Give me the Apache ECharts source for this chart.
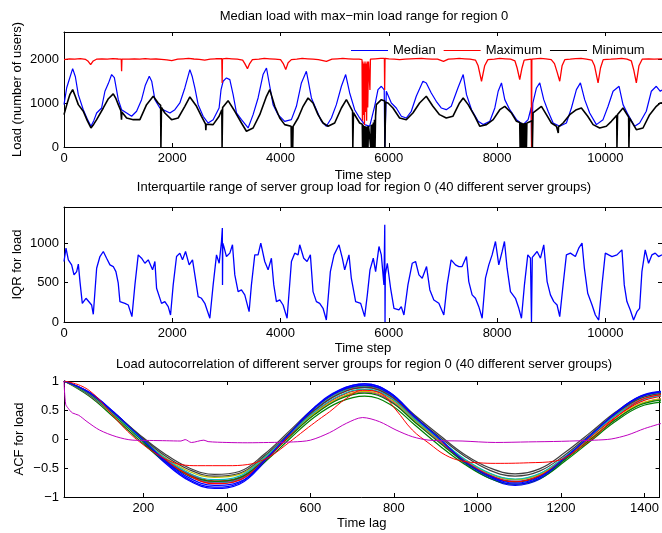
<!DOCTYPE html>
<html><head><meta charset="utf-8">
<script src="https://cdn.jsdelivr.net/npm/echarts@6/dist/echarts.min.js"></script>
<style>html,body{margin:0;padding:0;background:#fff}#c{width:662px;height:533px}</style>
</head><body><div id="c"></div>
<script>
// ---------- data ----------
const timeTicks = [0, 2000, 4000, 6000, 8000, 10000];
const loadTicks = [0, 1000, 2000];
const iqrTicks = [0, 500, 1000];
const lagTicks = [200, 400, 600, 800, 1000, 1200, 1400];
const acfTicks = [-1, -0.5, 0, 0.5, 1];
const legendNames = ['Median', 'Maximum', 'Minimum'];

const median = [[0,965],[50,1350],[100,1550],[160,1785],[210,1600],[264,1193],[356,850],[430,640],[498,472],[550,600],[603,775],[695,889],[756,1270],[820,1450],[880,1650],[930,1580],[1003,1079],[1064,850],[1157,775],[1249,700],[1341,814],[1433,1079],[1500,1400],[1575,1612],[1620,1500],[1679,1079],[1771,889],[1833,850],[1956,775],[2048,850],[2140,1003],[2232,1345],[2325,1763],[2370,1600],[2417,1345],[2478,965],[2570,700],[2662,547],[2755,623],[2865,889],[2900,1300],[2939,1498],[3001,1574],[3063,1535],[3124,1193],[3186,775],[3278,623],[3401,433],[3493,737],[3585,1117],[3677,1650],[3740,1800],[3801,1384],[3862,965],[3954,737],[4077,585],[4200,623],[4293,927],[4385,1460],[4477,1726],[4520,1450],[4570,1117],[4662,850],[4755,585],[4847,472],[4939,661],[5031,965],[5124,1384],[5203,1650],[5277,1231],[5369,850],[5461,661],[5554,510],[5646,472],[5738,927],[5800,1307],[5862,1384],[5915,1300],[5925,0],[5935,0],[5954,1270],[6046,1003],[6138,889],[6231,700],[6323,661],[6415,814],[6507,1155],[6630,1498],[6692,1460],[6784,1231],[6876,1041],[6968,889],[7061,850],[7153,927],[7276,1345],[7374,1650],[7435,1193],[7528,850],[7651,585],[7743,510],[7866,585],[7958,889],[8020,1270],[8081,1460],[8142,1079],[8234,850],[8358,623],[8481,510],[8573,623],[8630,900],[8638,0],[8648,0],[8660,1000],[8727,1345],[8788,1460],[8862,1079],[8942,814],[9035,547],[9157,472],[9280,547],[9373,889],[9465,1307],[9539,1460],[9618,1079],[9710,775],[9834,510],[9957,623],[10050,927],[10142,1270],[10253,1384],[10326,965],[10419,737],[10541,472],[10633,547],[10756,814],[10849,1270],[10941,1384],[11015,1270],[11046,1300]];

const maximum = [[0,1990],[100,2010],[200,2000],[300,2015],[400,1995],[440,1960],[492,1877],[540,1960],[600,2000],[700,2010],[800,2000],[900,2015],[1000,2005],[1058,2000],[1064,1726],[1070,2000],[1200,2000],[1300,2010],[1400,2000],[1500,2015],[1600,2000],[1700,2005],[1800,1995],[1900,1985],[1990,1970],[2100,2000],[2200,2010],[2300,2020],[2400,2005],[2500,1995],[2600,1980],[2700,2000],[2800,2010],[2915,2010],[2921,1460],[2927,2010],[3000,2020],[3100,2010],[3200,2000],[3300,1980],[3340,1900],[3389,1785],[3430,1900],[3480,1990],[3600,2000],[3700,2020],[3800,2010],[3900,2000],[4000,1990],[4050,1900],[4096,1763],[4140,1920],[4200,1990],[4300,2000],[4400,2020],[4500,2010],[4600,2000],[4700,1990],[4847,1950],[4950,2000],[5050,2010],[5150,2020],[5250,2010],[5350,2000],[5450,2000],[5505,1990],[5512,600],[5520,1950],[5530,730],[5540,1900],[5550,500],[5560,1950],[5570,800],[5580,1900],[5590,600],[5600,1950],[5610,900],[5625,1950],[5651,1300],[5660,2000],[5750,2010],[5850,2020],[5918,2020],[5923,1300],[5930,2020],[6000,2010],[6100,2000],[6200,1990],[6300,2000],[6400,2010],[6500,2015],[6600,2020],[6700,2010],[6800,2000],[6900,2000],[7010,1950],[7100,2000],[7200,2010],[7300,2020],[7400,2010],[7500,2000],[7600,1980],[7650,1850],[7712,1498],[7770,1850],[7830,1990],[7950,2000],[8050,2020],[8150,2010],[8250,2000],[8330,1960],[8370,1800],[8418,1535],[8460,1800],[8500,1980],[8630,2000],[8636,0],[8642,2000],[8700,2010],[8800,2020],[8900,2010],[9000,1990],[9060,1900],[9110,1700],[9157,1498],[9200,1850],[9250,1990],[9350,2000],[9450,2015],[9550,2020],[9650,2000],[9750,1980],[9800,1850],[9865,1460],[9910,1800],[9960,1990],[10100,2000],[10200,2010],[10300,2020],[10400,2000],[10480,1960],[10525,1750],[10572,1460],[10620,1850],[10680,2000],[10800,2010],[10900,2000],[11046,2010]];

const minimum = [[0,737],[60,1000],[110,1200],[160,1307],[210,1150],[264,965],[356,814],[430,600],[498,433],[550,520],[603,623],[726,889],[820,1100],[910,1209],[960,1100],[1003,965],[1050,830],[1062,620],[1068,800],[1157,661],[1280,623],[1402,623],[1525,965],[1648,1155],[1740,1003],[1785,950],[1790,0],[1796,0],[1800,900],[1863,775],[1987,623],[2109,661],[2232,927],[2325,1140],[2448,927],[2540,700],[2615,520],[2620,380],[2626,520],[2755,510],[2865,700],[2915,850],[2920,0],[2926,0],[2930,900],[3031,1056],[3155,814],[3278,547],[3370,358],[3493,433],[3616,737],[3740,1155],[3801,1307],[3893,927],[3985,661],[4077,510],[4195,472],[4200,0],[4210,0],[4215,472],[4225,0],[4232,470],[4324,661],[4416,927],[4508,1117],[4600,1003],[4692,737],[4785,547],[4877,472],[5000,547],[5124,889],[5216,1079],[5330,820],[5335,0],[5342,0],[5347,780],[5461,547],[5510,520],[5515,0],[5525,500],[5535,0],[5545,480],[5555,0],[5565,470],[5575,0],[5585,460],[5595,0],[5605,470],[5615,0],[5625,480],[5660,480],[5665,0],[5675,500],[5685,0],[5695,520],[5705,0],[5715,560],[5725,0],[5735,620],[5745,0],[5755,700],[5769,965],[5862,1079],[5925,1050],[5928,0],[5934,0],[5940,1020],[5984,1003],[6076,889],[6199,661],[6323,623],[6445,775],[6568,1003],[6692,1155],[6814,927],[6937,737],[7061,661],[7183,700],[7306,1003],[7374,1117],[7466,965],[7589,700],[7681,472],[7804,510],[7928,623],[8050,850],[8142,927],[8266,775],[8358,585],[8418,560],[8425,0],[8435,560],[8445,0],[8455,550],[8465,0],[8475,540],[8485,0],[8495,540],[8505,0],[8515,545],[8525,0],[8535,547],[8542,0],[8550,547],[8573,547],[8648,600],[8652,0],[8658,0],[8664,780],[8696,814],[8819,927],[8911,737],[9003,547],[9096,472],[9125,460],[9130,320],[9135,460],[9219,547],[9342,737],[9465,850],[9557,889],[9674,700],[9773,510],[9895,433],[10018,472],[10111,585],[10210,720],[10214,0],[10220,0],[10225,740],[10326,889],[10430,680],[10435,0],[10441,0],[10447,660],[10572,395],[10695,433],[10818,737],[10941,927],[11015,1003],[11046,1010]];

const iqr = [[0,768],[37,937],[80,789],[141,725],[185,598],[234,640],[265,734],[295,513],[338,237],[406,301],[449,267],[510,216],[541,98],[603,683],[664,831],[726,895],[787,810],[849,725],[910,704],[959,640],[1002,492],[1033,259],[1125,237],[1187,216],[1255,68],[1310,471],[1371,852],[1433,810],[1494,746],[1556,789],[1636,662],[1679,768],[1710,428],[1802,237],[1863,259],[1925,195],[1968,89],[2017,471],[2079,831],[2140,874],[2189,789],[2245,895],[2312,725],[2374,789],[2417,598],[2478,322],[2540,301],[2601,237],[2694,47],[2755,471],[2817,852],[2866,746],[2909,1022],[2925,1192],[2928,471],[2933,1000],[2952,958],[3001,831],[3063,874],[3112,980],[3155,598],[3216,386],[3278,407],[3339,344],[3419,131],[3462,471],[3524,852],[3585,852],[3635,1001],[3708,768],[3770,662],[3831,810],[3875,471],[3924,259],[3985,280],[4047,216],[4121,47],[4201,768],[4262,874],[4324,852],[4354,980],[4428,810],[4490,768],[4551,852],[4600,386],[4662,259],[4723,237],[4785,174],[4846,25],[4920,640],[4988,852],[5080,980],[5141,810],[5185,662],[5264,852],[5307,556],[5387,259],[5480,237],[5554,68],[5603,344],[5652,662],[5713,810],[5756,640],[5818,958],[5861,852],[5910,471],[5925,1234],[5930,0],[5935,600],[5972,746],[6033,428],[6095,174],[6187,153],[6230,195],[6279,89],[6353,471],[6433,746],[6494,768],[6556,598],[6617,556],[6697,704],[6758,407],[6832,280],[6924,237],[7016,89],[7077,471],[7151,789],[7231,725],[7293,704],[7354,704],[7434,831],[7477,513],[7539,344],[7600,301],[7662,195],[7724,47],[7785,556],[7847,725],[7908,852],[7970,1022],[8031,725],[8093,895],[8136,1022],[8185,683],[8247,386],[8339,301],[8401,174],[8450,47],[8505,471],[8567,852],[8616,810],[8635,0],[8650,820],[8678,831],[8739,895],[8801,810],[8862,980],[8924,513],[8985,344],[9047,259],[9108,216],[9157,68],[9219,471],[9280,852],[9354,874],[9446,831],[9508,937],[9569,1001],[9612,683],[9674,365],[9754,216],[9815,89],[9877,25],[9938,471],[9999,874],[10061,852],[10122,831],[10214,852],[10306,916],[10349,471],[10398,259],[10460,153],[10521,25],[10583,131],[10632,174],[10675,640],[10736,916],[10798,746],[10859,852],[10921,874],[10982,831],[11046,852]];

const acfLag = [10,70,130,190,250,310,370,430,490,550,610,670,730,790,850,910,970,1030,1090,1150,1210,1270,1330,1390,1450];
const acf01 = [1.00,0.80,0.44,0.02,-0.40,-0.72,-0.85,-0.78,-0.40,0.08,0.54,0.84,0.95,0.80,0.38,-0.03,-0.42,-0.68,-0.80,-0.69,-0.35,0.03,0.43,0.72,0.82];
const acf02 = [1.00,0.74,0.37,-0.02,-0.38,-0.64,-0.76,-0.70,-0.40,0.00,0.38,0.64,0.74,0.60,0.24,-0.12,-0.44,-0.68,-0.78,-0.68,-0.38,-0.04,0.30,0.56,0.64];
const acf03 = [1.00,0.78,0.42,0.04,-0.33,-0.60,-0.72,-0.66,-0.34,0.07,0.46,0.74,0.85,0.71,0.33,-0.02,-0.36,-0.60,-0.70,-0.60,-0.31,0.03,0.37,0.64,0.75];
const acf04 = [1.00,0.80,0.45,0.06,-0.33,-0.62,-0.76,-0.70,-0.35,0.09,0.51,0.80,0.91,0.76,0.37,0.00,-0.37,-0.62,-0.73,-0.62,-0.31,0.05,0.42,0.70,0.80];
const acf05 = [1.00,0.76,0.40,0.02,-0.33,-0.60,-0.74,-0.68,-0.36,0.05,0.43,0.70,0.81,0.67,0.30,-0.05,-0.39,-0.63,-0.73,-0.63,-0.34,0.00,0.33,0.60,0.70];
const acf06 = [1.00,0.77,0.40,0.03,-0.31,-0.56,-0.66,-0.61,-0.31,0.07,0.44,0.71,0.82,0.69,0.32,-0.03,-0.36,-0.60,-0.70,-0.61,-0.33,0.00,0.34,0.61,0.70];
const acf07 = [1.00,0.80,0.45,0.08,-0.25,-0.50,-0.61,-0.56,-0.26,0.14,0.54,0.82,0.92,0.78,0.41,0.06,-0.27,-0.50,-0.60,-0.51,-0.23,0.11,0.46,0.73,0.82];
const acf08 = [1.00,0.81,0.46,0.04,-0.38,-0.70,-0.83,-0.76,-0.38,0.10,0.55,0.85,0.95,0.80,0.39,-0.01,-0.40,-0.66,-0.78,-0.67,-0.33,0.05,0.45,0.74,0.83];
const acf09 = [1.00,0.77,0.41,0.02,-0.35,-0.62,-0.73,-0.67,-0.36,0.04,0.42,0.69,0.79,0.65,0.29,-0.07,-0.40,-0.64,-0.74,-0.64,-0.35,-0.01,0.33,0.59,0.68];
const acf10 = [1.00,0.79,0.43,0.05,-0.34,-0.63,-0.77,-0.71,-0.37,0.06,0.49,0.78,0.89,0.74,0.35,-0.02,-0.38,-0.63,-0.74,-0.63,-0.32,0.04,0.40,0.67,0.77];
const acf11 = [1.00,0.78,0.42,0.04,-0.32,-0.59,-0.70,-0.64,-0.32,0.08,0.47,0.75,0.86,0.72,0.34,-0.01,-0.35,-0.59,-0.69,-0.59,-0.30,0.05,0.40,0.66,0.76];
const acf12 = [1.00,0.79,0.44,0.07,-0.28,-0.53,-0.64,-0.59,-0.29,0.11,0.50,0.78,0.89,0.75,0.38,0.03,-0.30,-0.54,-0.64,-0.55,-0.27,0.08,0.43,0.70,0.79];
const acf13 = [1.00,0.80,0.45,0.05,-0.36,-0.67,-0.80,-0.74,-0.37,0.09,0.53,0.83,0.93,0.78,0.38,0.00,-0.39,-0.64,-0.76,-0.65,-0.32,0.06,0.44,0.73,0.82];
const acfRedOutlier = [[10,1.0],[50,0.92],[80,0.78],[110,0.55],[140,0.30],[170,0.08],[200,-0.10],[230,-0.25],[260,-0.37],[290,-0.44],[330,-0.46],[400,-0.46],[450,-0.44],[480,-0.38],[508,-0.28],[547,-0.07],[587,0.155],[619,0.33],[646,0.47],[686,0.70],[725,0.84],[765,0.80],[805,0.50],[844,0.155],[884,-0.075],[924,-0.28],[963,-0.38],[1003,-0.41],[1043,-0.42],[1122,-0.41],[1187,-0.38],[1220,-0.28],[1250,-0.13],[1281,0.04],[1320,0.30],[1360,0.53],[1400,0.70],[1450,0.78]];
const acfMagentaOutlier = [[10,1.0],[14,0.60],[20,0.53],[30,0.45],[45,0.41],[65,0.30],[95,0.155],[135,0.04],[175,-0.02],[215,-0.025],[255,-0.03],[290,-0.035],[300,-0.01],[315,-0.06],[345,-0.02],[355,-0.045],[400,-0.06],[450,-0.065],[500,-0.06],[560,-0.05],[600,-0.02],[646,0.11],[686,0.27],[725,0.37],[765,0.30],[805,0.155],[844,0.04],[884,-0.02],[963,-0.035],[1043,-0.06],[1122,-0.05],[1201,-0.04],[1281,-0.02],[1320,0.00],[1360,0.07],[1400,0.18],[1450,0.29]];

const acfBundle = [acf01,acf02,acf03,acf04,acf05,acf06,acf07,acf08,acf09,acf10,acf11,acf12,acf13];
const acfColors = ['#0000ff','#008000','#ff0000','#00bfbf','#bf00bf','#bfbf00','#404040','#0000ff','#008000','#ff0000','#00bfbf','#404040','#0000ff'];

// ---------- chart ----------
const FONT = '"Liberation Sans", Arial, Helvetica, sans-serif';
const AX = {show: true, onZero: false, lineStyle: {color: '#000', width: 1}};
const fmt = v => String(v).replace('-', '\u2212');

function xBottom(g, min, max, ticks, name, gap) {
  return {type: 'value', gridIndex: g, position: 'bottom', min, max, name, nameLocation: 'middle', nameGap: gap,
    nameMoveOverlap: false, nameTextStyle: {fontSize: 13, color: '#000', fontFamily: FONT},
    axisLine: AX, axisTick: {show: true, inside: true, length: 4, customValues: ticks, lineStyle: {color: '#000'}},
    axisLabel: {customValues: ticks, margin: 5, fontSize: 13, color: '#000', fontFamily: FONT, formatter: fmt},
    splitLine: {show: false}};
}
function xTop(g, min, max, ticks) {
  return {type: 'value', gridIndex: g, position: 'top', min, max,
    axisLine: AX, axisTick: {show: true, inside: true, length: 4, customValues: ticks, lineStyle: {color: '#000'}},
    axisLabel: {show: false, customValues: ticks}, splitLine: {show: false}};
}
function yLeft(g, min, max, ticks, name, gap) {
  return {type: 'value', gridIndex: g, position: 'left', min, max, name, nameLocation: 'middle', nameGap: gap,
    nameMoveOverlap: false, nameTextStyle: {fontSize: 13, color: '#000', fontFamily: FONT},
    axisLine: AX, axisTick: {show: true, inside: true, length: 4, customValues: ticks, lineStyle: {color: '#000'}},
    axisLabel: {customValues: ticks, margin: 5, fontSize: 13, color: '#000', fontFamily: FONT, formatter: fmt},
    splitLine: {show: false}};
}
function yRight(g, min, max, ticks) {
  return {type: 'value', gridIndex: g, position: 'right', min, max,
    axisLine: AX, axisTick: {show: true, inside: true, length: 4, customValues: ticks, lineStyle: {color: '#000'}},
    axisLabel: {show: false, customValues: ticks}, splitLine: {show: false}};
}
function line(name, data, color, xi, yi, w, smooth) {
  return {type: 'line', name, data, xAxisIndex: xi, yAxisIndex: yi, showSymbol: false, symbol: 'none',
    smooth: smooth || false, lineStyle: {color, width: w}, itemStyle: {color}, emphasis: {disabled: true},
    silent: true, animation: false};
}

const TMAX = 11046;
const series = [
  line('Median', median, '#0000ff', 0, 0, 1.2),
  line('Maximum', maximum, '#ff0000', 0, 0, 1.3),
  line('Minimum', minimum, '#000000', 0, 0, 1.6),
  line('IQR', iqr, '#0000ff', 2, 2, 1.3)
];
acfBundle.forEach((arr, i) => {
  series.push(line('acf' + (i + 1), acfLag.map((l, j) => [l, arr[j]]), acfColors[i], 4, 4, 1.2, 0.4));
});
series.push(line('acfRed', acfRedOutlier, '#ff0000', 4, 4, 1, 0.4));
series.push(line('acfMagenta', acfMagentaOutlier, '#bf00bf', 4, 4, 1, 0.3));

const chart = echarts.init(document.getElementById('c'), null, {renderer: 'canvas'});
chart.setOption({
  backgroundColor: '#fff',
  animation: false,
  textStyle: {fontFamily: FONT},
  title: [
    {text: 'Median load with max\u2212min load range for region 0', left: 364, top: 10, textAlign: 'center', padding: 0,
     textStyle: {fontSize: 13, fontWeight: 'normal', color: '#000', fontFamily: FONT}},
    {text: 'Interquartile range of server group load for region 0 (40 different server groups)', left: 364, top: 181, textAlign: 'center', padding: 0,
     textStyle: {fontSize: 13, fontWeight: 'normal', color: '#000', fontFamily: FONT}},
    {text: 'Load autocorrelation of different server groups for region 0 (40 different server groups)', left: 364, top: 358, textAlign: 'center', padding: 0,
     textStyle: {fontSize: 13, fontWeight: 'normal', color: '#000', fontFamily: FONT}}
  ],
  legend: {data: legendNames, left: 351, top: 44, padding: 0, icon: 'rect', itemWidth: 37, itemHeight: 1, itemGap: 8,
    selectedMode: false, textStyle: {fontSize: 13, color: '#000', fontFamily: FONT}},
  grid: [
    {left: 64, top: 32, width: 599, height: 115},
    {left: 64, top: 207, width: 599, height: 115},
    {left: 64, top: 381, width: 599, height: 116}
  ],
  xAxis: [
    xBottom(0, 0, TMAX, timeTicks, 'Time step', 22), xTop(0, 0, TMAX, timeTicks),
    xBottom(1, 0, TMAX, timeTicks, 'Time step', 20), xTop(1, 0, TMAX, timeTicks),
    xBottom(2, 10, 1436, lagTicks, 'Time lag', 20), xTop(2, 10, 1436, lagTicks)
  ],
  yAxis: [
    yLeft(0, 0, 2620, loadTicks, 'Load (number of users)', 40), yRight(0, 0, 2620, loadTicks),
    yLeft(1, 0, 1460, iqrTicks, 'IQR for load', 40), yRight(1, 0, 1460, iqrTicks),
    yLeft(2, -1, 1, acfTicks, 'ACF for load', 38), yRight(2, -1, 1, acfTicks)
  ],
  series
});
</script></body></html>
